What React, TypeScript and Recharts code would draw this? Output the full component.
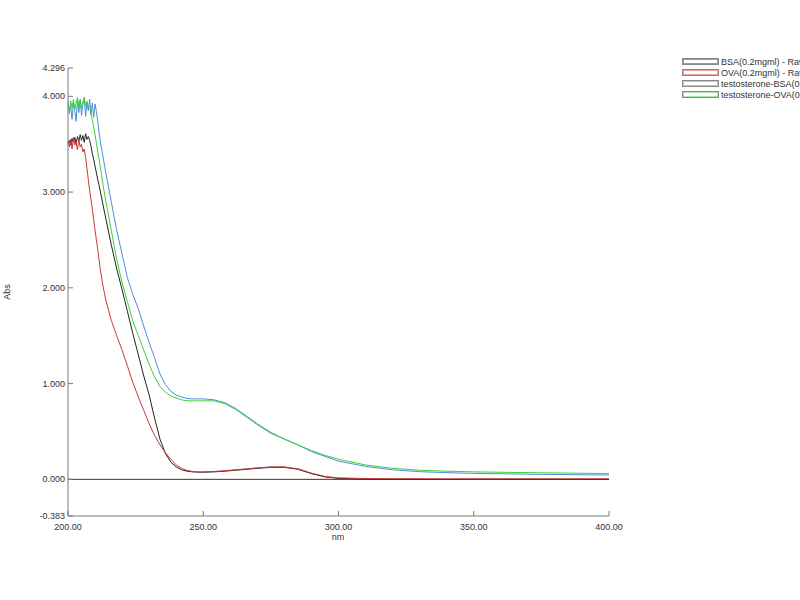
import React from 'react';
import { LineChart, Line, XAxis, YAxis, ReferenceLine } from 'recharts';

const wavelengths = [
  200, 200.5, 201, 201.5, 202, 202.5, 203, 203.5, 204, 204.5, 205, 205.5, 206, 206.5, 207, 207.5, 208, 208.5, 209, 209.5, 210, 210.5, 211, 211.5, 212,
  213, 214, 216, 218, 220, 222, 224, 226, 228, 230, 232, 234, 236, 238, 240, 242, 244, 246, 248, 250,
  254, 258, 262, 266, 270,
  275, 280, 285, 290, 295, 300,
  310, 320, 330, 340, 350,
  375, 400,
];

const bsa = [
  3.50, 3.54, 3.49, 3.56, 3.52, 3.57, 3.51, 3.58, 3.53, 3.60, 3.54, 3.59, 3.52, 3.61, 3.55, 3.58, 3.54, 3.48, 3.40, 3.34, 3.27, 3.20, 3.13, 3.07, 3.00,
  2.86, 2.72, 2.45, 2.2, 1.98, 1.75, 1.52, 1.3, 1.08, 0.88, 0.64, 0.42, 0.27, 0.18, 0.13, 0.10, 0.085, 0.078, 0.075, 0.074,
  0.078, 0.085, 0.095, 0.105, 0.115,
  0.125, 0.125, 0.105, 0.06, 0.025, 0.01,
  0.003, 0.0, 0.0, -0.002, 0.0,
  0.0, 0.0,
];

const ova = [
  3.53, 3.47, 3.55, 3.45, 3.57, 3.49, 3.52, 3.44, 3.55, 3.47, 3.50, 3.42, 3.45, 3.36, 3.25, 3.13, 3.02, 2.92, 2.82, 2.71, 2.60, 2.50, 2.40, 2.29, 2.18,
  2.01, 1.87, 1.66, 1.50, 1.35, 1.18, 1.01, 0.86, 0.72, 0.58, 0.46, 0.36, 0.28, 0.21, 0.15, 0.115, 0.092, 0.082, 0.078, 0.078,
  0.082, 0.09, 0.10, 0.11, 0.12,
  0.13, 0.13, 0.11, 0.065, 0.03, 0.015,
  0.008, 0.006, 0.006, 0.005, 0.005,
  0.005, 0.005,
];

const testoBsa = [
  3.95, 3.82, 3.90, 3.76, 3.93, 3.85, 3.74, 3.96, 3.83, 3.97, 3.80, 3.92, 3.99, 3.79, 3.94, 3.85, 3.97, 3.81, 3.93, 3.78, 3.92, 3.84, 3.74, 3.62, 3.52,
  3.36, 3.2, 2.9, 2.6, 2.35, 2.1, 1.93, 1.78, 1.6, 1.43, 1.27, 1.1, 0.99, 0.92, 0.88, 0.86, 0.845, 0.84, 0.84, 0.84,
  0.83, 0.80, 0.74, 0.66, 0.58,
  0.49, 0.42, 0.36, 0.29, 0.24, 0.19,
  0.135, 0.10, 0.08, 0.07, 0.062,
  0.052, 0.045,
];

const testoOva = [
  3.90, 3.84, 3.95, 3.88, 3.97, 3.86, 3.93, 3.99, 3.89, 3.96, 3.87, 3.94, 3.98, 3.90, 3.95, 3.88, 3.90, 3.82, 3.75, 3.68, 3.60, 3.51, 3.42, 3.34, 3.25,
  3.07, 2.9, 2.6, 2.3, 2.05, 1.85, 1.65, 1.5, 1.35, 1.2, 1.07, 0.97, 0.91, 0.87, 0.85, 0.83, 0.82, 0.82, 0.82, 0.82,
  0.82, 0.79, 0.73, 0.65, 0.57,
  0.48, 0.42, 0.36, 0.30, 0.25, 0.21,
  0.15, 0.115, 0.095, 0.085, 0.078,
  0.068, 0.06,
];

const xTicks = [200, 250, 300, 350, 400];
const yTicks = [-0.383, 0, 1, 2, 3, 4, 4.296];

const seriesNames = [
  'BSA(0.2mgml) - RawData',
  'OVA(0.2mgml) - RawData',
  'testosterone-BSA(0.2mgml) - RawData',
  'testosterone-OVA(0.2mgml) - RawData',
];
const seriesKeys = ['bsa', 'ova', 'tbsa', 'tova'];
const seriesColors = ['#222222', '#c8383a', '#4a8fd8', '#3ccf3c'];

const data = wavelengths.map((nm, i) => ({
  nm,
  bsa: bsa[i],
  ova: ova[i],
  tbsa: testoBsa[i],
  tova: testoOva[i],
}));

const FONT = '"Liberation Sans", Arial, sans-serif';
const AXIS = '#7a7a7a';
const TEXT = '#333333';

const BottomTick = (props: any) => {
  const { x, y, payload } = props;
  return (
    <g>
      <line x1={x} y1={y} x2={x} y2={y - 5} stroke={AXIS} />
      <text x={x} y={y + 14} textAnchor="middle" fontSize={9} fontFamily={FONT} fill={TEXT}>
        {Number(payload.value).toFixed(2)}
      </text>
    </g>
  );
};

const TopTick = (props: any) => {
  const { x, y } = props;
  return <line x1={x} y1={y} x2={x} y2={y + 5} stroke={AXIS} />;
};

const LeftTick = (props: any) => {
  const { x, y, payload } = props;
  return (
    <g>
      <line x1={x} y1={y} x2={x + 5} y2={y} stroke={AXIS} />
      <text x={x - 3} y={y + 3} textAnchor="end" fontSize={9} fontFamily={FONT} fill={TEXT}>
        {Number(payload.value).toFixed(3)}
      </text>
    </g>
  );
};

const RightTick = (props: any) => {
  const { x, y } = props;
  return <line x1={x} y1={y} x2={x - 5} y2={y} stroke={AXIS} />;
};

export default function App() {
  return (
    <div style={{ position: 'absolute', left: 0, top: 0, width: 800, height: 600, overflow: 'hidden', background: '#fff' }}>
      <LineChart
        width={800}
        height={600}
        data={data}
        margin={{ top: 68, right: 191, bottom: 0, left: 0 }}
      >
        <XAxis
          xAxisId="b"
          dataKey="nm"
          type="number"
          domain={[200, 400]}
          ticks={xTicks}
          height={84}
          tickSize={0}
          tickMargin={0}
          tickLine={false}
          axisLine={{ stroke: AXIS }}
          tick={<BottomTick />}
          interval={0}
          label={{
            content: () => (
              <text x={338} y={540} textAnchor="middle" fontSize={9} fontFamily={FONT} fill={TEXT}>
                nm
              </text>
            ),
          }}
        />
        <XAxis
          xAxisId="t"
          dataKey="nm"
          type="number"
          orientation="top"
          domain={[200, 400]}
          ticks={[250, 300, 350]}
          height={0}
          tickSize={0}
          tickMargin={0}
          tickLine={false}
          axisLine={{ stroke: AXIS }}
          tick={<TopTick />}
          interval={0}
        />
        <YAxis
          yAxisId="l"
          type="number"
          domain={[-0.383, 4.296]}
          ticks={yTicks}
          width={68}
          tickSize={0}
          tickMargin={0}
          tickLine={false}
          axisLine={{ stroke: AXIS }}
          tick={<LeftTick />}
          interval={0}
          allowDataOverflow
          label={{
            content: () => (
              <text x={10} y={292} textAnchor="middle" fontSize={9} fontFamily={FONT} fill={TEXT} transform="rotate(-90 10 292)">
                Abs
              </text>
            ),
          }}
        />
        <YAxis
          yAxisId="r"
          orientation="right"
          type="number"
          domain={[-0.383, 4.296]}
          ticks={[0, 1, 2, 3, 4]}
          width={0}
          tickSize={0}
          tickMargin={0}
          tickLine={false}
          axisLine={{ stroke: AXIS }}
          tick={<RightTick />}
          interval={0}
          allowDataOverflow
        />
        <ReferenceLine xAxisId="b" yAxisId="l" y={0} stroke="#333333" strokeWidth={1} />
        {seriesKeys.map((k, i) => (
          <Line
            key={k}
            xAxisId="b"
            yAxisId="l"
            dataKey={k}
            type="linear"
            stroke={seriesColors[i]}
            strokeWidth={1}
            dot={false}
            activeDot={false}
            isAnimationActive={false}
          />
        ))}
      </LineChart>
      <div style={{ position: 'absolute', left: 682, top: 56, fontFamily: FONT, fontSize: 9, color: TEXT, whiteSpace: 'nowrap' }}>
        {seriesNames.map((name, i) => (
          <div key={name} style={{ display: 'flex', alignItems: 'center', height: 11 }}>
            <svg width={38} height={8} style={{ display: 'block' }}>
              <rect x={0.5} y={0.5} width={36} height={6} fill="#fff" stroke="#888" />
              <rect x={1.5} y={1.5} width={34} height={4} fill="none" stroke={seriesColors[i]} strokeOpacity={0.45} />
            </svg>
            <span style={{ marginLeft: 1 }}>{name}</span>
          </div>
        ))}
      </div>
    </div>
  );
}
